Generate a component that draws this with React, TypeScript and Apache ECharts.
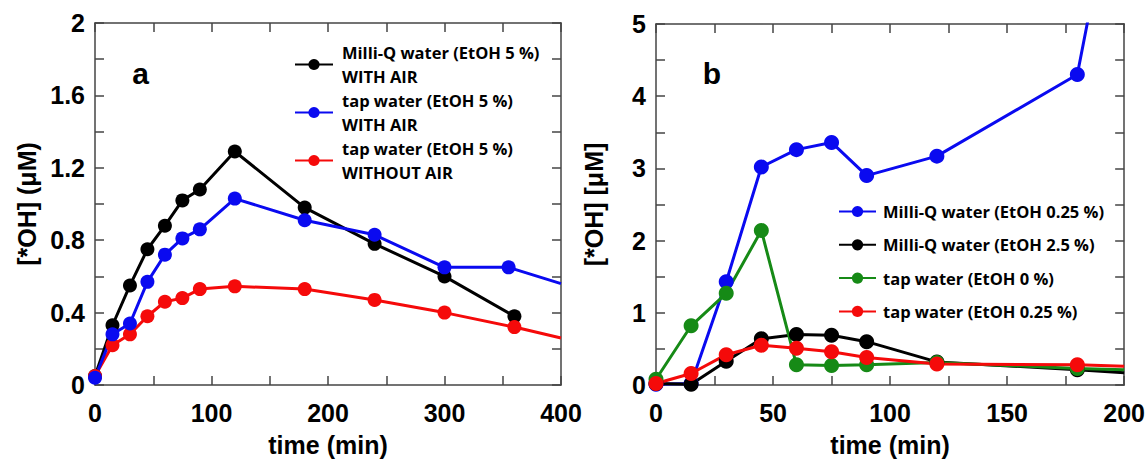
import React, { useEffect, useRef } from 'react';
import * as echarts from 'echarts';

// ---- Panel a ----
const timeA = [0, 15, 30, 45, 60, 75, 90, 120, 180, 240, 300, 360];
const milliQ5Air = [0.05, 0.33, 0.55, 0.75, 0.88, 1.02, 1.08, 1.29, 0.98, 0.78, 0.6, 0.38];
const timeATapAir = [0, 15, 30, 45, 60, 75, 90, 120, 180, 240, 300, 355, 400];
const tap5Air = [0.04, 0.28, 0.34, 0.57, 0.72, 0.81, 0.86, 1.03, 0.91, 0.83, 0.65, 0.65, 0.56];
const timeATapNoAir = [0, 15, 30, 45, 60, 75, 90, 120, 180, 240, 300, 360, 400];
const tap5NoAir = [0.05, 0.22, 0.28, 0.38, 0.46, 0.48, 0.53, 0.545, 0.53, 0.47, 0.4, 0.32, 0.26];

// ---- Panel b ----
const timeBBlue = [0, 15, 30, 45, 60, 75, 90, 120, 180, 186];
const milliQ025 = [0.01, 0.02, 1.43, 3.02, 3.26, 3.36, 2.9, 3.17, 4.3, 5.3];
const timeB = [0, 15, 30, 45, 60, 75, 90, 120, 180, 200];
const milliQ25 = [0.02, 0.01, 0.33, 0.64, 0.7, 0.69, 0.6, 0.32, 0.21, 0.17];
const tap0 = [0.08, 0.82, 1.27, 2.14, 0.28, 0.27, 0.28, 0.31, 0.23, 0.21];
const tap025 = [0.02, 0.16, 0.42, 0.55, 0.51, 0.46, 0.38, 0.29, 0.28, 0.26];

const namesA = [
  'Milli-Q water (EtOH 5 %)\nWITH AIR',
  'tap water (EtOH 5 %)\nWITH AIR',
  'tap water (EtOH 5 %)\nWITHOUT AIR',
];
const namesB = [
  'Milli-Q water (EtOH 0.25 %)',
  'Milli-Q water (EtOH 2.5 %)',
  'tap water (EtOH 0 %)',
  'tap water (EtOH 0.25 %)',
];

const xTicksA = { min: 0, max: 400, step: 50, labelStep: 100 };
const yTicksA = { min: 0, max: 2, step: 0.2, labelStep: 0.4 };
const xTicksB = { min: 0, max: 200, step: 25, labelStep: 50 };
const yTicksB = { min: 0, max: 5, step: 0.5, labelStep: 1 };

const BLACK = '#000000';
const BLUE = '#0a0af0';
const RED = '#f50a0a';
const GREEN = '#168a16';
const FRAME = '#444444';
const LABEL_FONT = "'Liberation Sans', Arial, sans-serif";
const LEGEND_FONT = "'Open Sans', 'Noto Sans', sans-serif";

function pts(xs: number[], ys: number[], xMax: number, yMax: number) {
  return xs.map((x, i) => {
    const y = ys[i];
    if (x >= xMax || y > yMax) return { value: [x, y], symbol: 'none' };
    return { value: [x, y] };
  });
}

function labelFmt(step: number) {
  return (v: number) => {
    const r = v / step;
    if (Math.abs(r - Math.round(r)) > 1e-6) return '';
    return String(Number(v.toFixed(2)));
  };
}

function axisPair(kind: 'x' | 'y', grid: number, t: any) {
  const common = {
    gridIndex: grid,
    type: 'value',
    min: t.min,
    max: t.max,
    interval: t.step,
    splitLine: { show: false },
    axisLine: { show: true, onZero: false, lineStyle: { color: FRAME, width: 1.5 } },
    axisTick: { show: true, inside: true, length: 9, lineStyle: { color: FRAME, width: 1.5 } },
  };
  const main = {
    ...common,
    position: kind === 'x' ? 'bottom' : 'left',
    axisLabel: {
      show: true,
      formatter: labelFmt(t.labelStep),
      color: '#000',
      fontFamily: LABEL_FONT,
      fontWeight: 'bold',
      fontSize: 25,
      margin: kind === 'x' ? 15 : 10,
      showMinLabel: true,
      showMaxLabel: true,
    },
  };
  const mirror = {
    ...common,
    position: kind === 'x' ? 'top' : 'right',
    axisLabel: { show: false },
  };
  return [main, mirror];
}

export default function App() {
  const ref = useRef<HTMLDivElement>(null);
  useEffect(() => {
    if (!ref.current) return;
    const chart = echarts.init(ref.current, undefined, { renderer: 'svg' });
    const lineSeries = (name: string, color: string, data: any[], xi: number, yi: number, size: number) => ({
      name,
      type: 'line',
      xAxisIndex: xi,
      yAxisIndex: yi,
      data,
      clip: true,
      symbol: 'circle',
      symbolSize: size,
      color,
      lineStyle: { color, width: 3 },
      itemStyle: { color },
    });
    const [xa0, xa1] = axisPair('x', 0, xTicksA);
    const [xb0, xb1] = axisPair('x', 1, xTicksB);
    const [ya0, ya1] = axisPair('y', 0, yTicksA);
    const [yb0, yb1] = axisPair('y', 1, yTicksB);
    const nameStyle = {
      color: '#000',
      fontFamily: LABEL_FONT,
      fontWeight: 'bold',
      fontSize: 25,
    };
    chart.setOption({
      animation: false,
      backgroundColor: '#ffffff',
      grid: [
        { left: 95, top: 23, width: 466, height: 364 },
        { left: 656, top: 24, width: 469, height: 363 },
      ],
      xAxis: [
        { ...xa0, name: 'time (min)', nameLocation: 'middle', nameGap: 47, nameTextStyle: nameStyle },
        xa1,
        { ...xb0, name: 'time (min)', nameLocation: 'middle', nameGap: 47, nameTextStyle: nameStyle },
        xb1,
      ],
      yAxis: [
        { ...ya0, name: '[*OH] (\u03bcM)', nameLocation: 'middle', nameGap: 56, nameRotate: 90, nameTextStyle: nameStyle },
        ya1,
        { ...yb0, name: '[*OH] [\u03bcM]', nameLocation: 'middle', nameGap: 50, nameRotate: 90, nameTextStyle: nameStyle },
        yb1,
      ],
      legend: [
        {
          orient: 'vertical',
          left: 294,
          top: 41,
          padding: 0,
          itemGap: 1,
          itemWidth: 38,
          itemHeight: 14,
          selectedMode: false,
          data: namesA,
          textStyle: {
            fontFamily: LEGEND_FONT,
            fontWeight: 'bold',
            fontSize: 16.5,
            lineHeight: 23.5,
            color: '#000',
            padding: [0, 0, 0, 4],
          },
        },
        {
          orient: 'vertical',
          left: 838,
          top: 201.5,
          padding: 0,
          itemGap: 13.3,
          itemWidth: 37,
          itemHeight: 14,
          selectedMode: false,
          data: namesB,
          textStyle: {
            fontFamily: LEGEND_FONT,
            fontWeight: 'bold',
            fontSize: 16.5,
            lineHeight: 20,
            color: '#000',
            padding: [0, 0, 0, 2],
          },
        },
      ],
      graphic: [
        {
          type: 'text',
          x: 140.5,
          y: 73,
          style: { text: 'a', font: `bold 30px ${LABEL_FONT}`, fill: '#000', textAlign: 'center', textVerticalAlign: 'middle' },
        },
        {
          type: 'text',
          x: 712,
          y: 73,
          style: { text: 'b', font: `bold 30px ${LABEL_FONT}`, fill: '#000', textAlign: 'center', textVerticalAlign: 'middle' },
        },
      ],
      series: [
        lineSeries(namesA[0], BLACK, pts(timeA, milliQ5Air, xTicksA.max, yTicksA.max), 0, 0, 14),
        lineSeries(namesA[2], RED, pts(timeATapNoAir, tap5NoAir, xTicksA.max, yTicksA.max), 0, 0, 14),
        lineSeries(namesA[1], BLUE, pts(timeATapAir, tap5Air, xTicksA.max, yTicksA.max), 0, 0, 14),
        lineSeries(namesB[0], BLUE, pts(timeBBlue, milliQ025, xTicksB.max, yTicksB.max), 2, 2, 15),
        lineSeries(namesB[1], BLACK, pts(timeB, milliQ25, xTicksB.max, yTicksB.max), 2, 2, 15),
        lineSeries(namesB[2], GREEN, pts(timeB, tap0, xTicksB.max, yTicksB.max), 2, 2, 15),
        lineSeries(namesB[3], RED, pts(timeB, tap025, xTicksB.max, yTicksB.max), 2, 2, 15),
      ],
    });
    return () => chart.dispose();
  }, []);
  return (
    <div
      ref={ref}
      style={{ position: 'fixed', left: 0, top: 0, width: 1148, height: 462, background: '#fff' }}
    />
  );
}
